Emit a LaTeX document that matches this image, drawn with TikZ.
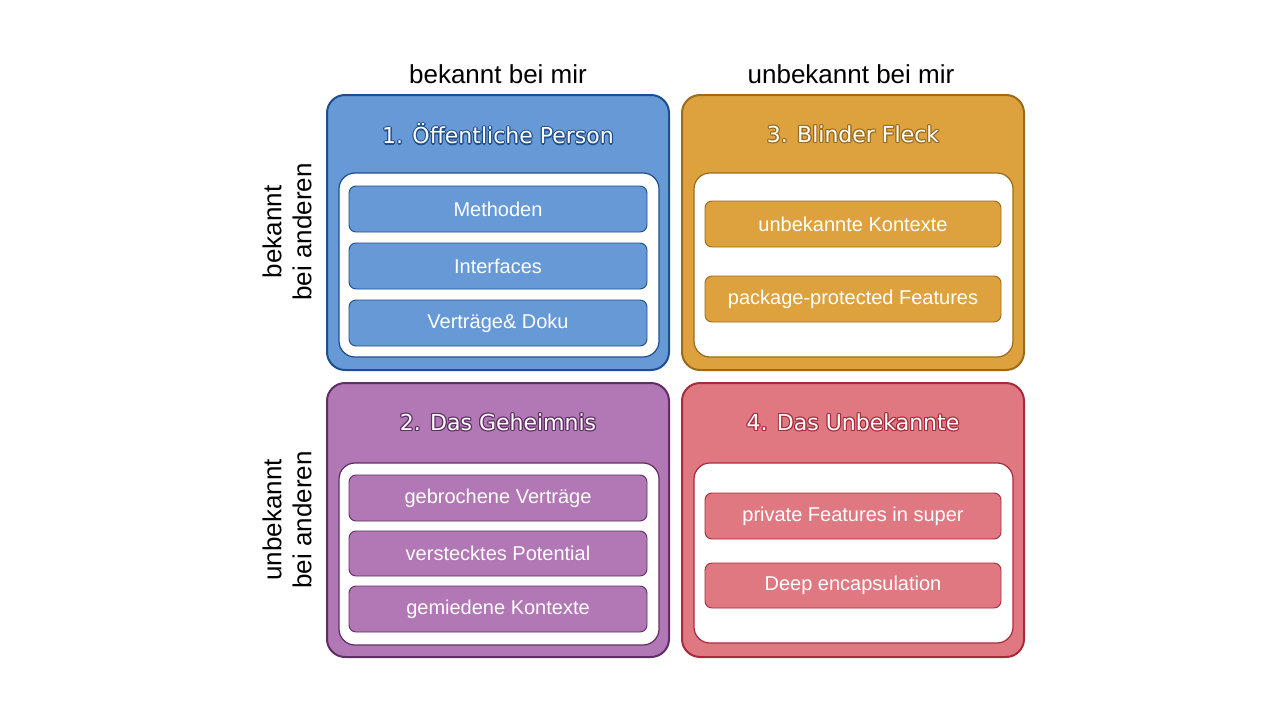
\documentclass[tikz,border=0pt]{standalone}
\usepackage{fontspec}
\setmainfont{Liberation Sans}
\newfontfamily\titlefont{DejaVu Sans}
\definecolor{bfill}{HTML}{6699D6}\definecolor{bline}{HTML}{1F4E8C}
\definecolor{ofill}{HTML}{DDA23E}\definecolor{oline}{HTML}{9A6B1A}
\definecolor{pfill}{HTML}{B277B5}\definecolor{pline}{HTML}{5E2F63}
\definecolor{rfill}{HTML}{E07882}\definecolor{rline}{HTML}{A72B3A}
\newcommand{\outl}[3]{% pos, color, text
  \foreach \dx/\dy in {1.2/0,-1.2/0,0/1.2,0/-1.2,0.85/0.85,-0.85/0.85,0.85/-0.85,-0.85/-0.85}{
    \node[text=#2,font=\titlefont\fontsize{22}{26}\selectfont] at ($(#1)+(\dx,\dy)$) {#3};}
  \node[text=white,font=\titlefont\fontsize{22}{26}\selectfont] at (#1) {#3};}
\usetikzlibrary{calc}
\begin{document}
\begin{tikzpicture}[x=1pt,y=-1pt,
  quad/.style={rounded corners=18pt,line width=2pt},
  inner/.style={rounded corners=16pt,fill=white,line width=1.2pt},
  item/.style={rounded corners=7pt,line width=0.9pt,text=white,font=\fontsize{20}{24}\selectfont},
  lab/.style={font=\fontsize{26}{30}\selectfont,align=center}]
\useasboundingbox (0,0) rectangle (1280,720);
% quadrants
\draw[quad,fill=bfill,draw=bline] (327,95) rectangle (669,370);
\draw[quad,fill=ofill,draw=oline] (682,95) rectangle (1024,370);
\draw[quad,fill=pfill,draw=pline] (327,383) rectangle (669,657);
\draw[quad,fill=rfill,draw=rline] (682,383) rectangle (1024,657);
\draw[inner,draw=bline] (339,173) rectangle (659,357);
\draw[inner,draw=oline] (694,173) rectangle (1013,357);
\draw[inner,draw=pline] (339,463) rectangle (659,645);
\draw[inner,draw=rline] (694,463) rectangle (1013,643);
% titles
\coordinate (t1) at (498,134); \coordinate (t3) at (853,134);
\coordinate (t2) at (498,422); \coordinate (t4) at (853,422);
\outl{t1}{bline}{1. Öffentliche Person}
\outl{t3}{oline}{3. Blinder Fleck}
\outl{t2}{pline}{2. Das Geheimnis}
\outl{t4}{rline}{4. Das Unbekannte}
% items
\draw[item,fill=bfill,draw=bline] (349,186) rectangle node (m1) {Methoden} (647,232);
\draw[item,fill=bfill,draw=bline] (349,243) rectangle node (m2) {Interfaces} (647,289);
\draw[item,fill=bfill,draw=bline] (349,300) rectangle node (m3) {Verträge\& Doku} (647,346);
\draw[item,fill=ofill,draw=oline] (705,201) rectangle node (o1) {unbekannte Kontexte} (1001,247);
\draw[item,fill=ofill,draw=oline] (705,276) rectangle node (o2) {package-protected Features} (1001,322);
\draw[item,fill=pfill,draw=pline] (349,475) rectangle node (p1) {gebrochene Verträge} (647,521);
\draw[item,fill=pfill,draw=pline] (349,531) rectangle node (p2) {verstecktes Potential} (647,576);
\draw[item,fill=pfill,draw=pline] (349,586) rectangle node (p3) {gemiedene Kontexte} (647,632);
\draw[item,fill=rfill,draw=rline] (705,493) rectangle node (r1) {private Features in super} (1001,539);
\draw[item,fill=rfill,draw=rline] (705,563) rectangle node (r2) {Deep encapsulation} (1001,608);
% axis labels
\node[lab] (c1) at (498,74) {bekannt bei mir};
\node[lab] (c2) at (851,74) {unbekannt bei mir};
\node[lab,rotate=90] (r1l) at (287,232) {bekannt\\bei anderen};
\node[lab,rotate=90] (r2l) at (287,520) {unbekannt\\bei anderen};
\end{tikzpicture}
\end{document}
